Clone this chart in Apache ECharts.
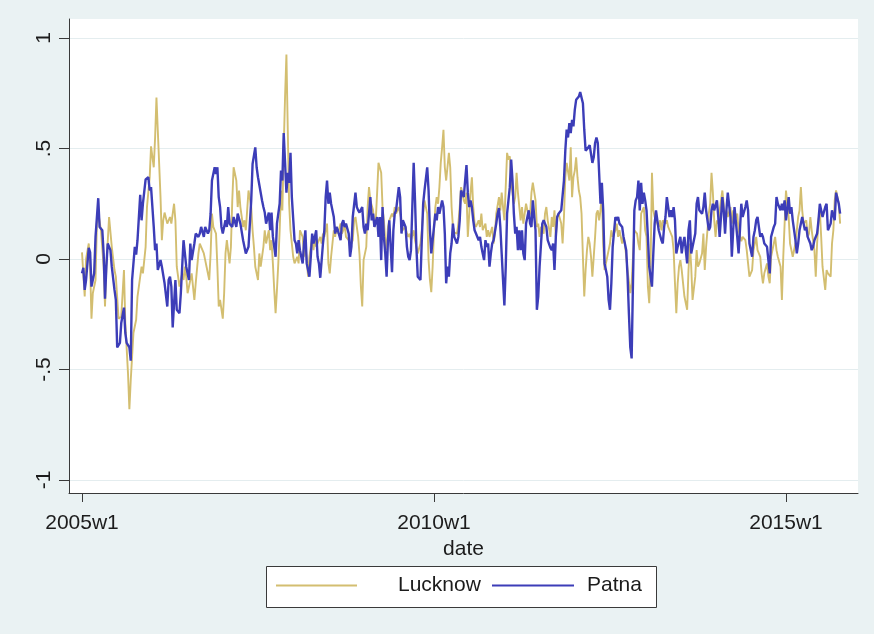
<!DOCTYPE html>
<html>
<head>
<meta charset="utf-8">
<title>Lucknow and Patna</title>
<script src="https://cdn.jsdelivr.net/npm/echarts@6/dist/echarts.min.js"></script>
<style>
  html, body { margin: 0; padding: 0; background: #EAF2F3; }
  #chart { width: 874px; height: 634px; }
</style>
</head>
<body>
<div id="chart"></div>
<script>
// Weekly series, week 0 = 2005w1 (Stata weeks: 52 per year)
const lucknowWeek = [0,2,3,5,6,7,8,10,11,12,14,16,17,18,20,22,24,25,27,29,30,31,32,34,35,36,38,40,41,42,44,45,47,48,50,51,53,54,55,56,58,59,60,61,63,65,66,68,69,70,72,74,75,76,77,78,80,81,83,84,86,87,88,90,91,92,94,95,96,97,99,100,101,102,104,105,106,107,109,110,111,112,114,115,116,117,119,120,121,122,123,125,126,127,128,130,131,132,134,135,136,138,139,140,141,142,143,144,145,146,147,148,149,150,151,152,153,154,155,156,157,159,160,161,163,164,165,167,168,170,171,172,173,174,176,177,178,179,181,182,183,184,186,187,188,189,191,192,193,194,195,197,198,200,201,202,204,205,206,207,208,210,211,212,213,215,216,217,218,219,221,222,223,224,225,226,227,229,230,231,232,234,235,236,237,239,240,241,242,243,245,246,247,248,250,251,252,253,255,256,257,258,259,260,261,262,263,264,265,266,267,268,269,271,272,273,274,275,277,278,279,280,282,283,284,285,287,288,289,290,291,293,294,295,296,298,299,300,301,303,304,305,306,308,309,310,311,312,314,315,316,317,319,320,321,322,324,325,326,327,328,330,331,332,333,335,336,337,338,339,341,342,343,344,346,347,348,349,350,351,352,354,355,356,357,358,360,361,362,363,364,365,366,367,368,369,370,371,372,373,374,375,376,377,378,379,380,381,382,383,384,385,386,388,389,390,391,392,394,395,396,397,399,400,401,402,403,405,406,407,408,410,411,412,413,415,416,417,418,419,420,421,422,423,424,426,427,428,429,431,432,433,434,436,437,438,439,440,441,442,443,444,445,447,448,449,450,451,453,454,455,456,458,459,460,461,463,464,465,466,467,468,469,470,471,473,474,475,476,477,479,480,481,482,484,485,486,487,488,490,491,492,493,495,496,497,498,499,501,502,503,504,506,507,508,509,511,512,513,514,516,517,518,519,520,522,523,524,525,527,528,529,530,531,532,533,535,536,537,538,539,541,542,543,544,545,546,547,549,550,551,553,554,555,556,557,559,560];
const lucknowValue = [0.03,-0.17,0,0.07,-0.035,-0.27,-0.155,-0.095,0.16,0.21,0.13,-0.035,-0.215,-0.035,0.19,0.055,-0.05,-0.08,-0.27,-0.26,-0.155,-0.05,-0.29,-0.52,-0.68,-0.55,-0.335,-0.275,-0.17,-0.125,-0.035,-0.065,0.055,0.235,0.37,0.51,0.415,0.55,0.73,0.58,0.28,0.085,0.175,0.21,0.16,0.19,0.16,0.25,0.175,-0.035,-0.125,-0.065,-0.095,-0.035,-0.08,-0.155,-0.095,-0.065,-0.185,-0.11,0.025,0.07,0.055,0.025,-0.005,-0.035,-0.095,0.025,0.205,0.145,0.115,-0.035,-0.215,-0.185,-0.27,-0.155,0.025,0.085,-0.02,0.055,0.265,0.415,0.355,0.235,0.31,0.235,0.145,0.175,0.13,0.22,0.31,0.235,0.13,0.055,-0.035,-0.095,0.025,-0.035,0.055,0.13,0.07,0.13,0.04,0.085,-0.02,-0.14,-0.245,-0.14,-0.02,0.13,0.31,0.22,0.505,0.735,0.925,0.585,0.25,0.13,0.07,0.01,-0.02,0.01,-0.02,0.13,0.10,0.01,0.07,-0.08,0.01,0.10,0.04,0.10,0.055,0.07,0.10,0.07,0.115,0.10,0.16,-0.02,-0.065,0.01,0.13,0.10,0.145,0.115,0.16,0.115,0.13,0.16,0.10,0.085,0.055,0.085,0.175,0.19,0.10,0.02,-0.125,-0.215,-0.005,0.055,0.235,0.325,0.265,0.22,0.145,0.175,0.30,0.435,0.39,0.235,0.175,0.085,0.04,0.145,0.175,0.205,0.19,0.235,0.205,0.235,0.205,0.175,0.13,0.145,0.115,0.10,0.115,0.085,0.13,0.085,0.055,0.025,0.07,0.13,0.205,0.265,0.205,-0.005,-0.095,-0.15,-0.035,0.13,0.235,0.28,0.25,0.325,0.435,0.505,0.585,0.415,0.355,0.48,0.415,0.235,0.145,0.12,0.115,0.16,0.235,0.325,0.265,0.25,0.30,0.10,0.30,0.37,0.235,0.16,0.145,0.175,0.145,0.205,0.13,0.16,0.10,0.13,0.10,0.145,0.07,0.115,0.205,0.28,0.22,0.30,0.235,0.175,0.48,0.45,0.465,0.345,0.25,0.28,0.39,0.30,0.175,0.235,0.16,0.205,0.25,0.19,0.205,0.30,0.345,0.265,0.145,0.16,0.10,0.145,0.115,0.205,0.235,0.175,0.10,0.19,0.145,0.22,0.10,0.19,0.205,0.16,0.07,0.19,0.37,0.435,0.355,0.505,0.28,0.37,0.40,0.46,0.37,0.31,0.28,0.205,0.01,-0.17,-0.05,0.04,0.10,0.07,0.01,-0.08,0.01,0.10,0.205,0.22,0.175,0.22,0.30,0.07,-0.05,0.01,0.04,0.07,0.13,0.10,0.13,0.16,0.10,0.13,0.07,0.10,0.07,0.01,-0.05,-0.155,-0.11,0.01,0.13,0.115,0.07,0.04,0.205,0.235,0.13,0.10,-0.125,-0.20,-0.02,0.39,0.22,0.19,0.175,0.145,0.175,0.13,0.175,0.16,0.175,0.145,0.13,0.10,0.04,-0.11,-0.245,-0.11,-0.035,-0.005,-0.05,-0.11,-0.17,-0.23,-0.05,0.07,-0.035,-0.185,-0.08,0.04,-0.035,-0.02,0.025,0.115,-0.05,0.055,0.205,0.25,0.39,0.30,0.175,0.10,0.175,0.16,0.22,0.31,0.25,0.16,0.22,0.19,0.235,0.16,0.22,0.175,0.205,0.13,0.13,0.08,0.10,0.085,0.04,-0.02,-0.08,-0.05,0.04,0.07,0.10,0.04,0.01,-0.065,-0.11,-0.065,-0.02,-0.08,-0.11,0.01,0.07,0.10,0.04,0.01,-0.035,-0.185,0.01,0.16,0.31,0.19,0.07,0.04,0.01,0.07,0.13,0.19,0.22,0.325,0.22,0.16,0.175,0.10,0.115,0.19,0.13,0.04,-0.08,0.07,0.175,0.22,0.10,-0.035,-0.14,-0.05,-0.065,-0.08,0.07,0.13,0.265,0.31,0.25,0.16];

const patnaWeek = [0,1,2,3,5,6,7,9,10,12,13,15,16,17,18,19,21,22,24,25,26,28,29,31,32,33,35,36,37,39,40,41,43,44,45,47,49,50,51,53,54,55,56,58,59,61,63,64,65,66,67,69,70,72,73,75,76,77,79,80,81,83,84,86,87,88,90,91,93,94,95,96,98,99,100,101,102,103,104,106,107,108,109,111,112,114,115,117,119,121,123,125,126,128,129,130,132,133,134,135,136,138,139,140,141,143,144,145,146,147,148,149,150,151,152,153,154,155,157,158,159,160,161,163,164,165,166,168,169,170,171,173,174,175,176,178,179,180,181,182,183,184,186,187,188,189,191,192,193,194,195,197,198,199,200,202,203,204,205,207,208,209,210,211,213,214,215,216,218,219,220,221,222,223,224,225,226,227,228,229,230,231,232,234,235,236,237,239,240,241,242,243,244,245,246,247,248,250,251,252,253,255,256,257,258,260,261,262,263,264,266,267,268,269,270,271,272,273,274,275,277,278,279,280,282,283,284,285,286,287,288,289,290,291,293,294,295,296,297,298,299,300,301,302,303,304,306,307,308,309,310,311,312,313,314,315,316,317,318,319,320,321,322,323,324,325,326,327,328,330,331,332,333,335,336,337,338,340,341,342,343,344,346,347,348,349,350,351,352,354,355,356,357,358,359,360,361,362,363,364,365,367,368,369,370,371,372,373,374,375,377,378,379,380,381,383,384,385,386,387,388,389,390,391,392,394,395,396,397,399,400,401,402,403,404,405,406,407,408,409,410,411,412,413,414,415,416,417,418,419,421,422,423,424,425,426,428,429,430,431,432,433,434,435,436,437,438,439,440,442,443,444,445,447,448,449,450,451,453,454,455,456,458,459,460,461,463,464,465,466,467,469,470,471,473,474,475,476,477,479,480,481,482,484,485,486,487,488,490,491,492,493,495,496,497,498,499,501,502,503,504,506,507,508,509,511,512,513,514,516,517,518,519,520,522,523,524,525,527,528,529,530,532,533,534,535,536,538,539,540,541,543,544,545,546,547,549,550,551,553,554,555,556,557,559,560];
const patnaValue = [-0.065,-0.04,-0.14,-0.095,0.05,0.03,-0.125,-0.065,0.10,0.275,0.145,0.13,0.025,-0.18,-0.035,0.07,0.04,-0.035,-0.14,-0.185,-0.40,-0.38,-0.29,-0.22,-0.335,-0.38,-0.40,-0.46,-0.095,0.055,0.02,0.085,0.29,0.175,0.25,0.36,0.37,0.31,0.325,0.145,0.04,0.07,-0.05,-0.005,-0.035,-0.11,-0.215,-0.095,-0.08,-0.125,-0.31,-0.095,-0.23,-0.245,-0.155,0.085,0.025,-0.035,-0.095,0.07,-0.005,0.07,0.115,0.10,0.115,0.145,0.10,0.145,0.115,0.13,0.205,0.355,0.415,0.385,0.415,0.28,0.235,0.145,0.115,0.175,0.145,0.235,0.16,0.145,0.19,0.145,0.205,0.16,0.085,0.025,0.055,0.265,0.43,0.505,0.415,0.37,0.30,0.265,0.235,0.21,0.16,0.21,0.13,0.21,0.10,0.01,0.16,0.16,0.25,0.40,0.355,0.57,0.435,0.30,0.39,0.345,0.48,0.28,0.085,0.07,0.025,0.085,0.04,-0.02,0.07,0.13,-0.02,-0.08,0.01,0.115,0.07,0.13,0.01,-0.02,-0.085,0.07,0.13,0.28,0.355,0.25,0.30,0.25,0.19,0.115,0.145,0.13,0.085,0.16,0.175,0.145,0.16,0.115,0.01,0.055,0.19,0.30,0.235,0.22,0.21,0.235,0.145,0.115,0.16,0.13,0.28,0.175,0.205,0.145,0.19,0.10,0.19,-0.005,0.235,0.10,0.025,-0.08,0.085,0.175,0.055,-0.06,0.13,0.205,0.22,0.325,0.28,0.115,0.175,0.145,0.055,0.01,-0.005,0.04,0.235,0.435,0.265,0.055,-0.08,-0.095,0.085,0.25,0.31,0.415,0.31,0.13,0.025,0.145,0.205,0.175,0.235,0.205,0.265,0.235,0.115,-0.11,-0.035,-0.08,0.025,0.07,0.16,0.10,0.07,0.10,0.175,0.31,0.28,0.355,0.425,0.30,0.235,0.265,0.235,0.175,0.13,0.115,0.085,0.10,0.055,0.025,-0.005,0.085,0.055,0.07,-0.035,0.025,0.07,0.085,0.16,0.205,0.23,0.145,0.025,-0.095,-0.21,-0.035,0.205,0.265,0.325,0.45,0.355,0.205,0.115,0.145,0.04,0.13,0.04,0.13,0.025,-0.005,0.16,0.22,0.16,0.145,0.265,0.13,-0.23,-0.17,-0.035,0.16,0.175,0.16,0.145,0.085,0.05,0.04,0.07,-0.05,0.10,0.19,0.205,0.22,0.22,0.355,0.49,0.585,0.55,0.615,0.57,0.63,0.60,0.675,0.72,0.735,0.755,0.75,0.705,0.585,0.49,0.485,0.505,0.515,0.435,0.46,0.525,0.55,0.525,0.25,0.345,0.22,-0.02,-0.05,-0.08,-0.185,-0.23,-0.11,0.055,0.19,0.175,0.19,0.16,0.145,0.10,0.07,0.04,-0.08,-0.25,-0.40,-0.45,-0.10,0.22,0.265,0.28,0.355,0.22,0.345,0.25,0.30,0.265,0.22,0.10,-0.035,-0.125,0.025,0.16,0.22,0.175,0.13,0.085,0.07,0.145,0.19,0.28,0.235,0.19,0.22,0.19,0.235,0.175,0.025,0.055,0.10,0.025,0.07,0.10,-0.02,0.13,0.175,0.025,0.055,0.115,0.25,0.28,0.22,0.205,0.235,0.30,0.22,0.13,0.145,0.22,0.25,0.22,0.265,0.19,0.10,0.28,0.22,0.115,0.22,0.30,0.19,0.01,0.13,0.235,0.10,0.025,0.13,0.25,0.19,0.235,0.265,0.22,0.07,0.01,0.10,0.13,0.175,0.19,0.10,0.115,0.10,0.07,0.055,-0.005,-0.065,0.10,0.145,0.16,0.28,0.25,0.22,0.25,0.22,0.265,0.175,0.28,0.205,0.235,0.175,0.085,0.025,0.07,0.13,0.19,0.16,0.13,0.145,0.10,0.07,0.04,0.055,0.085,0.115,0.175,0.25,0.22,0.19,0.235,0.25,0.13,0.16,0.22,0.22,0.175,0.30,0.25,0.205];

// Axis ticks and their labels
const xTickWeeks = [0, 260, 520];
const xTickLabels = ['2005w1', '2010w1', '2015w1'];
const yTickValues = [-1, -0.5, 0, 0.5, 1];
const yTickLabels = ['-1', '-.5', '0', '.5', '1'];

const seriesNames = ['Lucknow', 'Patna'];
const seriesColors = ['#D3BE70', '#3C3DB8'];

const toPairs = (weeks, values) => weeks.map((w, i) => [w, values[i]]);

const FONT = "'Liberation Sans', Arial, Helvetica, sans-serif";
const TEXT = '#1c1c1c';
const AXIS = '#3a3a3a';

const chart = echarts.init(document.getElementById('chart'), null, { renderer: 'canvas' });

chart.setOption({
  animation: false,
  backgroundColor: '#EAF2F3',
  textStyle: { fontFamily: FONT },
  grid: {
    left: 69, right: 16, top: 19, bottom: 141,
    show: true, backgroundColor: '#ffffff', borderWidth: 0
  },
  xAxis: {
    type: 'value',
    min: -9.6,
    max: 573.2,
    name: 'date',
    nameLocation: 'middle',
    nameGap: 36,
    nameTextStyle: { fontSize: 21, color: TEXT, fontFamily: FONT },
    axisLine: { show: true, onZero: false, lineStyle: { color: AXIS, width: 1 } },
    axisTick: { show: true, length: 9, customValues: xTickWeeks, lineStyle: { color: AXIS, width: 1 } },
    axisLabel: {
      customValues: xTickWeeks,
      margin: 20,
      fontSize: 21,
      color: TEXT,
      fontFamily: FONT,
      formatter: v => xTickLabels[xTickWeeks.indexOf(v)] || ''
    },
    splitLine: { show: false }
  },
  yAxis: {
    type: 'value',
    min: -1.0589,
    max: 1.0859,
    axisLine: { show: true, onZero: false, lineStyle: { color: AXIS, width: 1 } },
    axisTick: { show: true, length: 10, customValues: yTickValues, lineStyle: { color: AXIS, width: 1 } },
    axisLabel: {
      customValues: yTickValues,
      rotate: 90,
      margin: 14,
      fontSize: 21,
      color: TEXT,
      fontFamily: FONT,
      formatter: v => {
        const i = yTickValues.findIndex(t => Math.abs(t - v) < 1e-9);
        return i >= 0 ? yTickLabels[i] : '';
      }
    },
    splitLine: { show: true, lineStyle: { color: '#E4EDEF', width: 1 } }
  },
  legend: [
    {
      data: [seriesNames[0]],
      left: 276, top: 575,
      padding: 0,
      icon: 'rect',
      itemWidth: 81, itemHeight: 2,
      selectedMode: false,
      textStyle: { fontSize: 21, color: TEXT, fontFamily: FONT, padding: [0, 0, 0, 36] }
    },
    {
      data: [seriesNames[1]],
      left: 492, top: 575,
      padding: 0,
      icon: 'rect',
      itemWidth: 82, itemHeight: 2,
      selectedMode: false,
      textStyle: { fontSize: 21, color: TEXT, fontFamily: FONT, padding: [0, 0, 0, 8] }
    }
  ],
  graphic: [
    {
      type: 'rect',
      left: 266, top: 566,
      z: 0,
      shape: { width: 390, height: 41 },
      style: { fill: '#ffffff', stroke: '#3a3a3a', lineWidth: 1 }
    }
  ],
  series: [
    {
      name: seriesNames[0],
      type: 'line',
      data: toPairs(lucknowWeek, lucknowValue),
      symbol: 'none',
      showSymbol: false,
      z: 2,
      color: seriesColors[0],
      lineStyle: { color: seriesColors[0], width: 1.9 }
    },
    {
      name: seriesNames[1],
      type: 'line',
      data: toPairs(patnaWeek, patnaValue),
      symbol: 'none',
      showSymbol: false,
      z: 3,
      color: seriesColors[1],
      lineStyle: { color: seriesColors[1], width: 2.4 }
    }
  ]
});
</script>
</body>
</html>
